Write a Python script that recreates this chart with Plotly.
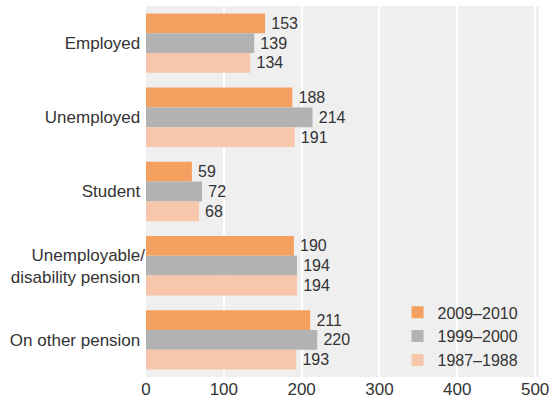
import plotly.graph_objects as go

categories = ["Employed", "Unemployed", "Student",
              "Unemployable/<br>disability pension", "On other pension"]
series_names = ["2009\u20132010", "1999\u20132000", "1987\u20131988"]
values_2009 = [153, 188, 59, 190, 211]
values_1999 = [139, 214, 72, 194, 220]
values_1987 = [134, 191, 68, 194, 193]
colors = ["#F4A060", "#B2B2B2", "#F8C6AA"]
x_ticks = [0, 100, 200, 300, 400, 500]

fig = go.Figure()
# y axis runs top-down, so the first trace sits at the top of each group
for name, vals, col in zip(series_names, [values_2009, values_1999, values_1987], colors):
    fig.add_trace(go.Bar(
        y=categories, x=vals, name=name, orientation="h",
        marker=dict(color=col, line=dict(width=0)),
        text=["\u2009" + str(v) for v in vals], textposition="outside",
        textfont=dict(size=16, color="#333333"),
        cliponaxis=False,
    ))

fig.update_layout(
    width=555, height=399,
    margin=dict(l=146, r=16, t=6, b=22),
    barmode="group", bargap=0.2, bargroupgap=0,
    plot_bgcolor="#EFEFEF", paper_bgcolor="white",
    font=dict(family="Liberation Sans, Arial, sans-serif", size=17, color="#333333"),
    showlegend=True,
    legend=dict(traceorder="normal", x=0.64, y=0.22, xanchor="left", yanchor="top",
                bgcolor="rgba(0,0,0,0)", font=dict(size=16, color="#333333"),
                itemwidth=30, tracegroupgap=0),
)
fig.update_xaxes(range=[0, 505], tickvals=x_ticks, showgrid=True, gridcolor="white",
                 gridwidth=2, zeroline=False, showline=False, ticks="",
                 automargin=False, tickfont=dict(size=17, color="#333333"))
fig.update_yaxes(autorange="reversed", showgrid=False, ticks="", showline=False,
                 ticksuffix=" ", tickfont=dict(size=17, color="#333333"))

fig.write_html("out.html")
